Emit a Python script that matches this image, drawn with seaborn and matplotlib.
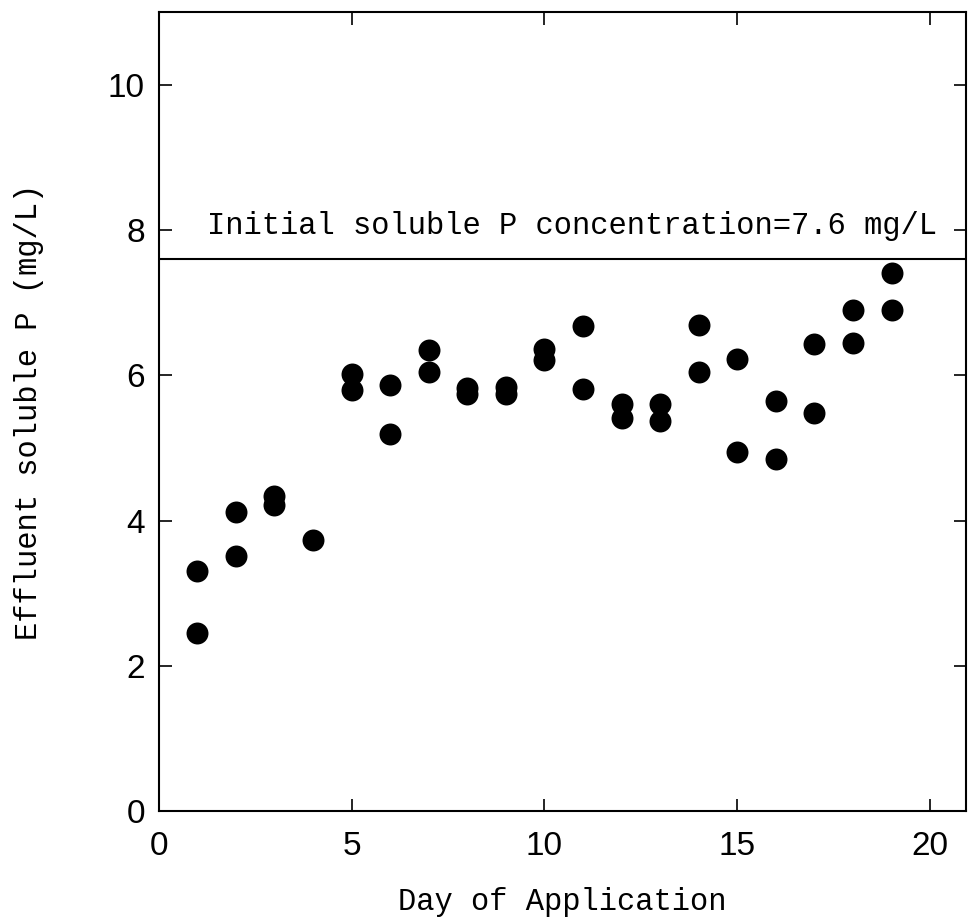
import numpy as np
import pandas as pd
import seaborn as sns
import matplotlib
matplotlib.use("Agg")
import matplotlib.pyplot as plt

# ------------------------------------------------------------
# Data (two samples per day, one on day 4)
# ------------------------------------------------------------
days = [1, 1, 2, 2, 3, 3, 4, 5, 5, 6, 6, 7, 7, 8, 8, 9, 9, 10, 10,
        11, 11, 12, 12, 13, 13, 14, 14, 15, 15, 16, 16, 17, 17, 18, 18, 19, 19]
soluble_p = [3.30, 2.46, 4.12, 3.52, 4.34, 4.21, 3.74, 6.02, 5.80, 5.87, 5.19,
             6.35, 6.04, 5.82, 5.74, 5.84, 5.74, 6.36, 6.21, 6.68, 5.81,
             5.61, 5.41, 5.61, 5.37, 6.69, 6.05, 6.23, 4.95, 5.64, 4.85,
             6.43, 5.48, 6.90, 6.45, 7.41, 6.90]
initial_p = 7.6

x_ticks = [0, 5, 10, 15, 20]
y_ticks = [0, 2, 4, 6, 8, 10]

df = pd.DataFrame({"day": days, "p": soluble_p})

sns.set_style("ticks")
label_font = "Liberation Mono"
tick_font = "Liberation Sans"

fig = plt.figure(figsize=(9.68, 9.24), dpi=100)
ax = fig.add_axes([0.164, 0.122, 0.834, 0.865])

sns.scatterplot(data=df, x="day", y="p", ax=ax, color="black",
                s=250, edgecolor="black", linewidth=0, legend=False)

ax.axhline(initial_p, color="black", lw=1.5)
ax.text(1.25, 8.05, f"Initial soluble P concentration={initial_p} mg/L",
        family=label_font, fontsize=22, ha="left", va="center", color="black")

ax.set_xlim(0, 20.93)
ax.set_ylim(0, 11)
ax.set_xticks(x_ticks)
ax.set_yticks(y_ticks)
ax.tick_params(direction="in", length=9, width=1.2, top=True, right=True,
               labelsize=24, pad=10, colors="black")
ax.tick_params(axis="x", pad=14)
for lab in ax.get_xticklabels() + ax.get_yticklabels():
    lab.set_family(tick_font)

for sp in ax.spines.values():
    sp.set_visible(True)
    sp.set_linewidth(1.5)
    sp.set_color("black")

ax.set_xlabel("Day of Application", family=label_font, fontsize=22,
              labelpad=18, color="black")
ax.set_ylabel("Effluent soluble P (mg/L)", family=label_font, fontsize=22,
              labelpad=46, color="black")

fig.savefig("out.png", dpi=100)
